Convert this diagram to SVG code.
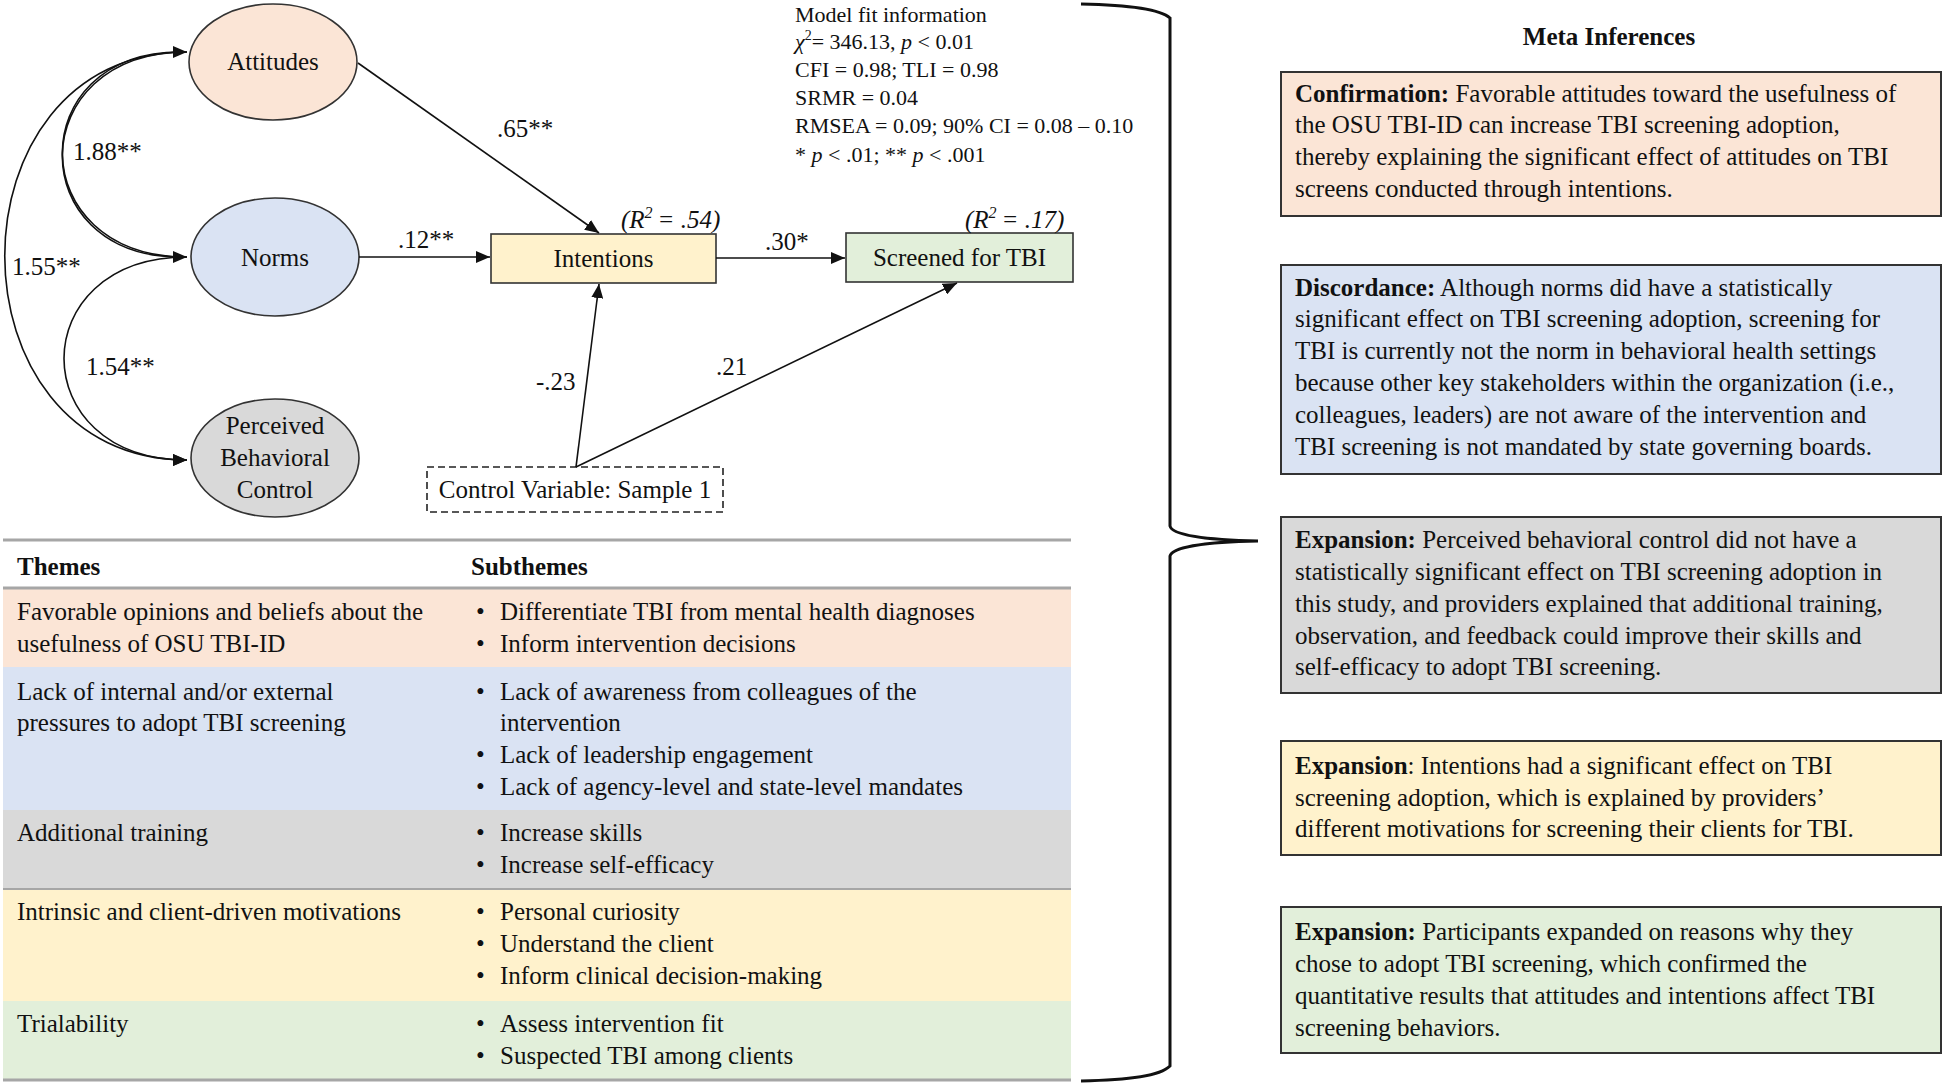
<svg xmlns="http://www.w3.org/2000/svg" width="1944" height="1086" viewBox="0 0 1944 1086">
<style>
text{font-family:"Liberation Serif","Times New Roman",serif;font-size:25px;fill:#111}
.c{text-anchor:middle}
.b{font-weight:bold}
.it{font-style:italic}
.fit{font-size:22px}
.edge{fill:none;stroke:#111;stroke-width:1.6}
.node{stroke:#333;stroke-width:1.6}
.mbox{stroke:#333;stroke-width:2}
.tline{stroke:#A6A6A6;stroke-width:3}
</style>
<defs>
<marker id="ah" markerUnits="userSpaceOnUse" markerWidth="15" markerHeight="12" refX="14" refY="6" orient="auto">
<path d="M0,0 L14,6 L0,12 z" fill="#111"/>
</marker>
</defs>
<rect width="1944" height="1086" fill="#fff"/>

<!-- Nodes -->
<g id="attitudes">
<ellipse class="node" cx="273" cy="62" rx="84" ry="58" fill="#FBE5D6"/>
<text class="c" x="273" y="70">Attitudes</text>
</g>
<g id="norms">
<ellipse class="node" cx="275" cy="257" rx="84" ry="59" fill="#DAE3F3"/>
<text class="c" x="275" y="266">Norms</text>
</g>
<g id="pbc">
<ellipse class="node" cx="275" cy="458" rx="84" ry="59" fill="#D9D9D9"/>
<text class="c" x="275" y="434">Perceived</text>
<text class="c" x="275" y="466">Behavioral</text>
<text class="c" x="275" y="498">Control</text>
</g>
<g id="intentions">
<rect class="node" x="491" y="234" width="225" height="49" fill="#FFF2CC"/>
<text class="c" x="603.5" y="267">Intentions</text>
<text class="it" x="621" y="228">(R<tspan dy="-10" font-size="16">2</tspan><tspan dy="10" dx="5">= .54)</tspan></text>
</g>
<g id="screened">
<rect class="node" x="846" y="233" width="227" height="49" fill="#E2EFDA"/>
<text class="c" x="959.5" y="266">Screened for TBI</text>
<text class="it" x="965" y="228">(R<tspan dy="-10" font-size="16">2</tspan><tspan dy="10" dx="5">= .17)</tspan></text>
</g>
<g id="control">
<rect x="427" y="467" width="296" height="45" fill="#fff" stroke="#222" stroke-width="1.6" stroke-dasharray="7,4"/>
<text class="c" x="575" y="498">Control Variable: Sample 1</text>
</g>
<g id="modelfit">
<text class="fit" x="795" y="22">Model fit information</text>
<text class="fit" x="795" y="49"><tspan class="it">χ</tspan><tspan dy="-9" font-size="14">2</tspan><tspan dy="9">= 346.13, </tspan><tspan class="it">p</tspan> &lt; 0.01</text>
<text class="fit" x="795" y="77">CFI = 0.98; TLI = 0.98</text>
<text class="fit" x="795" y="105">SRMR = 0.04</text>
<text class="fit" x="795" y="133">RMSEA = 0.09; 90% CI = 0.08 – 0.10</text>
<text class="fit" x="795" y="162">* <tspan class="it">p</tspan> &lt; .01; ** <tspan class="it">p</tspan> &lt; .001</text>
</g>

<!-- Connectors -->
<g id="connectors">
<path class="edge" d="M180,52 C22,52 22,257 187,257" marker-end="url(#ah)"/>
<path class="edge" d="M187,52 C-56,52 -56,460 187,460" marker-end="url(#ah)"/>
<path class="edge" d="M187,257 C23,257 23,460 187,460" marker-end="url(#ah)"/>
<path class="edge" d="M180,257 C22,257 22,52 187,52" marker-end="url(#ah)"/>
<line class="edge" x1="358" y1="63" x2="599" y2="233" marker-end="url(#ah)"/>
<line class="edge" x1="359" y1="257" x2="490" y2="257" marker-end="url(#ah)"/>
<line class="edge" x1="716" y1="258" x2="845" y2="258" marker-end="url(#ah)"/>
<line class="edge" x1="576" y1="467" x2="599" y2="284" marker-end="url(#ah)"/>
<line class="edge" x1="576" y1="467" x2="957" y2="283" marker-end="url(#ah)"/>
<text x="73" y="160">1.88**</text>
<text x="12" y="275">1.55**</text>
<text x="86" y="375">1.54**</text>
<text x="497" y="137">.65**</text>
<text x="398" y="248">.12**</text>
<text x="765" y="250">.30*</text>
<text x="536" y="390">-.23</text>
<text x="716" y="375">.21</text>
</g>

<!-- Brace -->
<g id="brace">
<path d="M1081,4 C1130,5 1160,9 1170,18 L1170,526 C1172,535 1205,540 1258,541 C1205,542 1172,547 1170,556 L1170,1066 C1160,1076 1130,1080 1081,1081" fill="none" stroke="#111" stroke-width="3"/>
</g>

<!-- Table -->
<g id="table">
<rect x="3" y="589" width="1068" height="78" fill="#FBE5D6"/>
<rect x="3" y="667" width="1068" height="143" fill="#DAE3F3"/>
<rect x="3" y="810" width="1068" height="79" fill="#D9D9D9"/>
<rect x="3" y="889" width="1068" height="112" fill="#FFF2CC"/>
<rect x="3" y="1001" width="1068" height="78" fill="#E2EFDA"/>
<line class="tline" x1="3" y1="540" x2="1071" y2="540"/>
<line class="tline" x1="3" y1="588" x2="1071" y2="588"/>
<line x1="3" y1="889" x2="1071" y2="889" stroke="#A6A6A6" stroke-width="2"/>
<line class="tline" x1="3" y1="1080" x2="1071" y2="1080"/>
<text class="b" x="17" y="575">Themes</text>
<text class="b" x="471" y="575">Subthemes</text>
<text x="17" y="620">Favorable opinions and beliefs about the</text>
<text x="17" y="652">usefulness of OSU TBI-ID</text>
<text x="476" y="620">•</text><text x="500" y="620">Differentiate TBI from mental health diagnoses</text>
<text x="476" y="652">•</text><text x="500" y="652">Inform intervention decisions</text>
<text x="17" y="700">Lack of internal and/or external</text>
<text x="17" y="731">pressures to adopt TBI screening</text>
<text x="476" y="700">•</text><text x="500" y="700">Lack of awareness from colleagues of the</text>
<text x="500" y="731">intervention</text>
<text x="476" y="763">•</text><text x="500" y="763">Lack of leadership engagement</text>
<text x="476" y="795">•</text><text x="500" y="795">Lack of agency-level and state-level mandates</text>
<text x="17" y="841">Additional training</text>
<text x="476" y="841">•</text><text x="500" y="841">Increase skills</text>
<text x="476" y="873">•</text><text x="500" y="873">Increase self-efficacy</text>
<text x="17" y="920">Intrinsic and client-driven motivations</text>
<text x="476" y="920">•</text><text x="500" y="920">Personal curiosity</text>
<text x="476" y="952">•</text><text x="500" y="952">Understand the client</text>
<text x="476" y="984">•</text><text x="500" y="984">Inform clinical decision-making</text>
<text x="17" y="1032">Trialability</text>
<text x="476" y="1032">•</text><text x="500" y="1032">Assess intervention fit</text>
<text x="476" y="1064">•</text><text x="500" y="1064">Suspected TBI among clients</text>
</g>

<!-- Meta inferences -->
<g id="meta-title">
<text class="b c" x="1609" y="45">Meta Inferences</text>
</g>
<g id="meta-confirmation">
<rect class="mbox" x="1281" y="72" width="660" height="144" fill="#FBE5D6"/>
<text x="1295" y="102"><tspan class="b">Confirmation:</tspan> Favorable attitudes toward the usefulness of</text>
<text x="1295" y="133">the OSU TBI-ID can increase TBI screening adoption,</text>
<text x="1295" y="165">thereby explaining the significant effect of attitudes on TBI</text>
<text x="1295" y="197">screens conducted through intentions.</text>
</g>
<g id="meta-discordance">
<rect class="mbox" x="1281" y="265" width="660" height="209" fill="#DAE3F3"/>
<text x="1295" y="296"><tspan class="b">Discordance:</tspan> Although norms did have a statistically</text>
<text x="1295" y="327">significant effect on TBI screening adoption, screening for</text>
<text x="1295" y="359">TBI is currently not the norm in behavioral health settings</text>
<text x="1295" y="391">because other key stakeholders within the organization (i.e.,</text>
<text x="1295" y="423">colleagues, leaders) are not aware of the intervention and</text>
<text x="1295" y="455">TBI screening is not mandated by state governing boards.</text>
</g>
<g id="meta-expansion-pbc">
<rect class="mbox" x="1281" y="517" width="660" height="176" fill="#D9D9D9"/>
<text x="1295" y="548"><tspan class="b">Expansion:</tspan> Perceived behavioral control did not have a</text>
<text x="1295" y="580">statistically significant effect on TBI screening adoption in</text>
<text x="1295" y="612">this study, and providers explained that additional training,</text>
<text x="1295" y="644">observation, and feedback could improve their skills and</text>
<text x="1295" y="675">self-efficacy to adopt TBI screening.</text>
</g>
<g id="meta-expansion-intentions">
<rect class="mbox" x="1281" y="741" width="660" height="114" fill="#FFF2CC"/>
<text x="1295" y="774"><tspan class="b">Expansion</tspan>: Intentions had a significant effect on TBI</text>
<text x="1295" y="806">screening adoption, which is explained by providers’</text>
<text x="1295" y="837">different motivations for screening their clients for TBI.</text>
</g>
<g id="meta-expansion-participants">
<rect class="mbox" x="1281" y="907" width="660" height="146" fill="#E2EFDA"/>
<text x="1295" y="940"><tspan class="b">Expansion:</tspan> Participants expanded on reasons why they</text>
<text x="1295" y="972">chose to adopt TBI screening, which confirmed the</text>
<text x="1295" y="1004">quantitative results that attitudes and intentions affect TBI</text>
<text x="1295" y="1036">screening behaviors.</text>
</g>
</svg>
